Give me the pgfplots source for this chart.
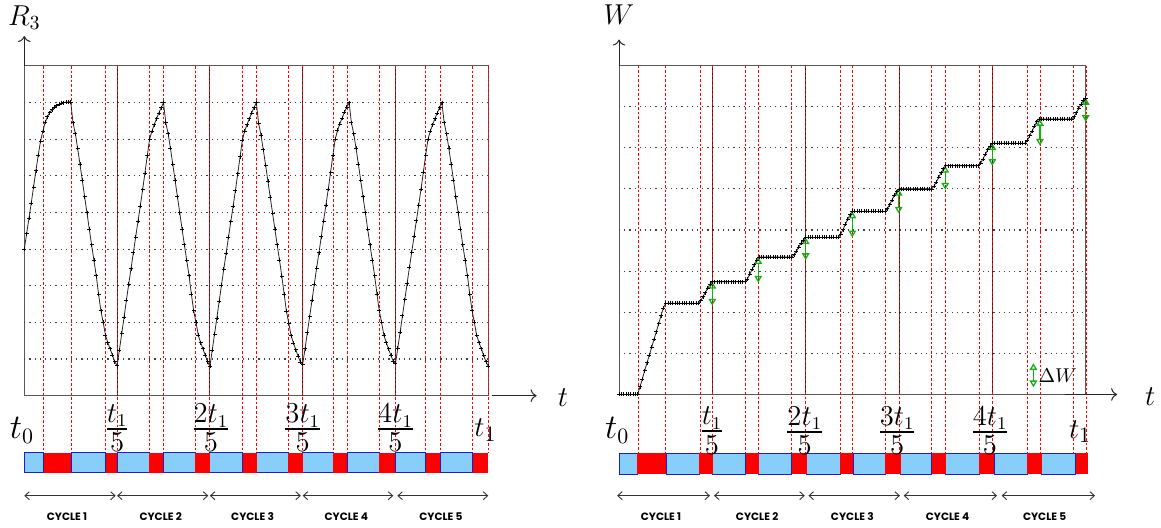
\documentclass[border=0pt]{standalone}
\usepackage{amsmath}
\usepackage{pgfplots}
\pgfplotsset{compat=1.18}
\usetikzlibrary{arrows.meta}
\usepackage{fontspec}
\newfontfamily\cyclefont{Poppins}
\definecolor{barblue}{RGB}{135,206,250}
\definecolor{baredge}{RGB}{30,30,200}
\definecolor{arrgreen}{RGB}{20,175,20}
\newcommand{\bseg}[2]{\fill[barblue] (axis cs:#1,\barlo) rectangle (axis cs:#2,\barhi);
  \draw[baredge, line width=0.5pt] (axis cs:#1,\barlo) rectangle (axis cs:#2,\barhi);}
\newcommand{\rseg}[2]{\fill[red] (axis cs:#1,\barlo) rectangle (axis cs:#2,\barhi);}
\newcommand{\cyc}[4]{\draw[black!80, line width=0.45pt, {Straight Barb[length=2.2pt,width=4pt]}-{Straight Barb[length=2.2pt,width=4pt]}] (axis cs:#1,\cycy) -- (axis cs:#2,\cycy);
  \node[font=\cyclefont\bfseries\fontsize{5.3pt}{6pt}\selectfont, inner sep=0pt] at (axis cs:#3,\cyct) {CYCLE #4};}
\newcommand{\gar}[3]{\draw[arrgreen, line width=0.65pt, {Triangle[open,length=3.4pt,width=3.8pt]}-{Triangle[open,length=3.4pt,width=3.8pt]}] (axis cs:#1,#2) -- (axis cs:#1,#3);}
\newcommand{\fr}[1]{\setlength{\arrayrulewidth}{1pt}\renewcommand{\arraystretch}{0.85}%
  \begin{tabular}{@{}c@{}}$#1$\\[-1.2pt]\hline\rule{0pt}{10.8pt}$5$\end{tabular}}
\tikzset{
  reddash/.style={red, line width=0.5pt, dash pattern=on 1.3pt off 1pt},
  hgrid/.style={black!75, line width=0.6pt, dotted},
  fraclab/.style={font=\fontsize{13.5pt}{15.5pt}\selectfont, inner sep=0pt},
}
\pgfplotsset{
  panel/.style={
    scale only axis, clip=false,
    xmin=0, xmax=5,
    xtick=\empty, ytick=\empty,
    axis line style={black!65, line width=0.5pt},
  },
  curve/.style={black!85, line width=0.4pt, mark=+, mark size=1pt,
    mark options={black, line width=0.35pt, solid}},
}
\begin{document}
\begin{tikzpicture}
\useasboundingbox (0,0) rectangle (580.5pt,264pt);
% ---------------- left panel ----------------
\def\barlo{-2.110}\def\barhi{-1.564}\def\cycy{-2.73}\def\cyct{-3.30}
\begin{axis}[panel, at={(12.15pt,66.15pt)}, anchor=south west,
  width=232pt, height=164.85pt, ymin=0, ymax=9]
\pgfplotsinvokeforeach{1,2,3,4,5,6,7,8}{\draw[hgrid] (axis cs:0,#1) -- (axis cs:5,#1);}
\pgfplotsinvokeforeach{1,2,3,4}{\draw[black!85, line width=0.4pt] (axis cs:#1,0) -- (axis cs:#1,9);}
\pgfplotsinvokeforeach{0.209,0.506,0.877,1.0,1.345,1.5,1.84,2.0,2.355,2.503,2.842,3.0,3.33,3.481,3.825,4.0,4.325,4.48,4.832,5.0}{\draw[reddash] (axis cs:#1,9) -- (axis cs:#1,\barhi);}
\addplot[curve] coordinates {
(0,4.00)(0.025,4.42)(0.05,4.84)(0.075,5.26)(0.1,5.70)(0.125,6.14)(0.15,6.56)(0.175,6.95)(0.2,7.22)(0.225,7.46)(0.25,7.62)(0.275,7.73)(0.3,7.81)(0.325,7.87)(0.35,7.92)(0.375,7.95)(0.4,7.98)(0.425,8.00)(0.45,8.01)(0.475,8.02)(0.5,8.02)
(0.525,7.45)(0.55,7.15)(0.575,6.75)(0.6,6.32)(0.625,5.88)(0.65,5.43)(0.675,5.00)(0.7,4.55)(0.725,4.12)(0.75,3.70)(0.775,3.28)(0.8,2.78)(0.825,2.32)(0.85,2.00)(0.875,1.65)(0.9,1.45)(0.925,1.28)(0.95,1.10)(0.975,0.93)(1,0.82)
(1.025,1.25)(1.05,1.70)(1.075,2.14)(1.1,2.60)(1.125,3.04)(1.15,3.47)(1.175,3.90)(1.2,4.33)(1.225,4.76)(1.25,5.18)(1.275,5.62)(1.3,6.08)(1.325,6.55)(1.35,7.00)(1.375,7.22)(1.4,7.40)(1.425,7.56)(1.45,7.72)(1.475,7.86)(1.5,8.00)
(1.525,7.45)(1.55,7.15)(1.575,6.75)(1.6,6.32)(1.625,5.88)(1.65,5.43)(1.675,5.00)(1.7,4.55)(1.725,4.12)(1.75,3.70)(1.775,3.28)(1.8,2.78)(1.825,2.32)(1.85,2.00)(1.875,1.65)(1.9,1.45)(1.925,1.28)(1.95,1.10)(1.975,0.93)(2,0.80)
(2.025,1.24)(2.05,1.68)(2.075,2.12)(2.1,2.58)(2.125,3.02)(2.15,3.46)(2.175,3.89)(2.2,4.32)(2.225,4.75)(2.25,5.17)(2.275,5.60)(2.3,6.06)(2.325,6.52)(2.35,6.98)(2.375,7.22)(2.4,7.40)(2.425,7.56)(2.45,7.72)(2.475,7.86)(2.5,8.00)
(2.525,7.44)(2.55,7.12)(2.575,6.72)(2.6,6.30)(2.625,5.86)(2.65,5.42)(2.675,4.99)(2.7,4.55)(2.725,4.12)(2.75,3.70)(2.775,3.26)(2.8,2.78)(2.825,2.30)(2.85,1.98)(2.875,1.64)(2.9,1.44)(2.925,1.26)(2.95,1.08)(2.975,0.92)(3,0.86)
(3.025,1.28)(3.05,1.72)(3.075,2.16)(3.1,2.60)(3.125,3.04)(3.15,3.48)(3.175,3.90)(3.2,4.34)(3.225,4.77)(3.25,5.20)(3.275,5.63)(3.3,6.09)(3.325,6.56)(3.35,7.00)(3.375,7.24)(3.4,7.42)(3.425,7.58)(3.45,7.74)(3.475,7.88)(3.5,8.00)
(3.525,7.45)(3.55,7.15)(3.575,6.75)(3.6,6.32)(3.625,5.88)(3.65,5.43)(3.675,5.00)(3.7,4.55)(3.725,4.12)(3.75,3.70)(3.775,3.28)(3.8,2.78)(3.825,2.32)(3.85,2.00)(3.875,1.65)(3.9,1.45)(3.925,1.28)(3.95,1.10)(3.975,0.95)(4,0.88)
(4.025,1.30)(4.05,1.74)(4.075,2.18)(4.1,2.62)(4.125,3.06)(4.15,3.50)(4.175,3.92)(4.2,4.35)(4.225,4.78)(4.25,5.20)(4.275,5.64)(4.3,6.10)(4.325,6.56)(4.35,7.00)(4.375,7.22)(4.4,7.40)(4.425,7.56)(4.45,7.72)(4.475,7.86)(4.5,8.00)
(4.525,7.45)(4.55,7.15)(4.575,6.75)(4.6,6.32)(4.625,5.88)(4.65,5.43)(4.675,5.00)(4.7,4.55)(4.725,4.12)(4.75,3.70)(4.775,3.28)(4.8,2.78)(4.825,2.32)(4.85,2.00)(4.875,1.65)(4.9,1.45)(4.925,1.28)(4.95,1.10)(4.975,0.93)(5,0.80)
};
% colour bar
\bseg{0}{0.209}\bseg{0.506}{0.877}\bseg{1.0}{1.345}\bseg{1.5}{1.84}\bseg{2.0}{2.355}
\bseg{2.503}{2.842}\bseg{3.0}{3.33}\bseg{3.481}{3.825}\bseg{4.0}{4.325}\bseg{4.48}{4.832}
\rseg{0.209}{0.506}\rseg{0.877}{1.0}\rseg{1.345}{1.5}\rseg{1.84}{2.0}\rseg{2.355}{2.503}
\rseg{2.842}{3.0}\rseg{3.33}{3.481}\rseg{3.825}{4.0}\rseg{4.325}{4.48}\rseg{4.832}{5.0}
% cycles
\cyc{0.0}{0.985}{0.46}{1}\cyc{1.0}{1.983}{1.47}{2}\cyc{2.0}{2.98}{2.46}{3}\cyc{3.0}{3.976}{3.47}{4}\cyc{4.02}{5.0}{4.49}{5}
% time labels
\node[font=\fontsize{16pt}{18pt}\selectfont] at (axis cs:-0.025,-0.936) {$t_0$};
\node[fraclab] at (axis cs:1.0,-0.99) {\fr{t_1}};
\node[fraclab] at (axis cs:2.01,-0.99) {\fr{2t_1}};
\node[fraclab] at (axis cs:3.0,-0.99) {\fr{3t_1}};
\node[fraclab] at (axis cs:4.0,-0.99) {\fr{4t_1}};
\node[font=\fontsize{15pt}{17pt}\selectfont] at (axis cs:4.97,-0.936) {$t_1$};
% axis arrows and labels
\draw[black!85, line width=0.5pt, -{To[length=3pt]}] (rel axis cs:0,1) -- ++(0pt,15pt);
\node[font=\fontsize{14pt}{16pt}\selectfont] at (rel axis cs:0,1) [yshift=24pt] {$R_3$};
\draw[black!85, line width=0.5pt, -{To[length=3pt]}] (axis cs:5.037,0) -- (axis cs:5.521,0);
\node[font=\fontsize{14.5pt}{16pt}\selectfont] at (axis cs:5.805,-0.06) {$t$};
\end{axis}
% ---------------- right panel ----------------
\def\barlo{-1.94}\def\barhi{-1.43}\def\cycy{-2.46}\def\cyct{-2.97}
\begin{axis}[panel, at={(309.5pt,66.75pt)}, anchor=south west,
  width=233.35pt, height=164.5pt, ymin=0, ymax=8]
\pgfplotsinvokeforeach{1,2,3,4,5,6,7}{\draw[hgrid] (axis cs:0,#1) -- (axis cs:5,#1);}
\pgfplotsinvokeforeach{1,2,3,4}{\draw[black!85, line width=0.4pt] (axis cs:#1,0) -- (axis cs:#1,8);}
\pgfplotsinvokeforeach{0.207,0.5,0.868,1.0,1.357,1.492,1.853,2.0,2.373,2.5,2.852,3.0,3.352,3.495,3.858,4.0,4.372,4.515,4.872,5.008}{\draw[reddash] (axis cs:#1,8) -- (axis cs:#1,\barhi);}
\addplot[curve] coordinates {
(0,0)(0.025,0)(0.05,0)(0.075,0)(0.1,0)(0.125,0)(0.15,0)(0.175,0)(0.2,0)
(0.225,0.19)(0.25,0.38)(0.275,0.58)(0.3,0.77)(0.325,0.96)(0.35,1.15)(0.375,1.34)(0.4,1.53)(0.425,1.72)(0.45,1.92)(0.475,2.10)(0.5,2.22)
(0.525,2.22)(0.55,2.22)(0.575,2.22)(0.6,2.22)(0.625,2.22)(0.65,2.22)(0.675,2.22)(0.7,2.22)(0.725,2.22)(0.75,2.22)(0.775,2.22)(0.8,2.22)(0.825,2.22)(0.85,2.22)
(0.875,2.28)(0.9,2.38)(0.925,2.48)(0.95,2.58)(0.975,2.68)(1,2.74)
(1.025,2.74)(1.05,2.74)(1.075,2.74)(1.1,2.74)(1.125,2.74)(1.15,2.74)(1.175,2.74)(1.2,2.74)(1.225,2.74)(1.25,2.74)(1.275,2.74)(1.3,2.74)(1.325,2.74)(1.35,2.74)
(1.375,2.81)(1.4,2.92)(1.425,3.04)(1.45,3.16)(1.475,3.27)(1.5,3.34)
(1.525,3.34)(1.55,3.34)(1.575,3.34)(1.6,3.34)(1.625,3.34)(1.65,3.34)(1.675,3.34)(1.7,3.34)(1.725,3.34)(1.75,3.34)(1.775,3.34)(1.8,3.34)(1.825,3.34)(1.85,3.34)
(1.875,3.40)(1.9,3.48)(1.925,3.58)(1.95,3.68)(1.975,3.76)(2,3.82)
(2.025,3.82)(2.05,3.82)(2.075,3.82)(2.1,3.82)(2.125,3.82)(2.15,3.82)(2.175,3.82)(2.2,3.82)(2.225,3.82)(2.25,3.82)(2.275,3.82)(2.3,3.82)(2.325,3.82)(2.35,3.82)
(2.375,3.90)(2.4,4.01)(2.425,4.14)(2.45,4.26)(2.475,4.37)(2.5,4.45)
(2.525,4.45)(2.55,4.45)(2.575,4.45)(2.6,4.45)(2.625,4.45)(2.65,4.45)(2.675,4.45)(2.7,4.45)(2.725,4.45)(2.75,4.45)(2.775,4.45)(2.8,4.45)(2.825,4.45)(2.85,4.45)
(2.875,4.52)(2.9,4.62)(2.925,4.73)(2.95,4.84)(2.975,4.93)(3,5.00)
(3.025,5.00)(3.05,5.00)(3.075,5.00)(3.1,5.00)(3.125,5.00)(3.15,5.00)(3.175,5.00)(3.2,5.00)(3.225,5.00)(3.25,5.00)(3.275,5.00)(3.3,5.00)(3.325,5.00)(3.35,5.00)
(3.375,5.07)(3.4,5.17)(3.425,5.28)(3.45,5.39)(3.475,5.49)(3.5,5.56)
(3.525,5.56)(3.55,5.56)(3.575,5.56)(3.6,5.56)(3.625,5.56)(3.65,5.56)(3.675,5.56)(3.7,5.56)(3.725,5.56)(3.75,5.56)(3.775,5.56)(3.8,5.56)(3.825,5.56)(3.85,5.56)
(3.875,5.63)(3.9,5.73)(3.925,5.84)(3.95,5.95)(3.975,6.04)(4,6.11)
(4.025,6.11)(4.05,6.11)(4.075,6.11)(4.1,6.11)(4.125,6.11)(4.15,6.11)(4.175,6.11)(4.2,6.11)(4.225,6.11)(4.25,6.11)(4.275,6.11)(4.3,6.11)(4.325,6.11)(4.35,6.11)
(4.375,6.18)(4.4,6.29)(4.425,6.41)(4.45,6.52)(4.475,6.63)(4.5,6.70)
(4.525,6.70)(4.55,6.70)(4.575,6.70)(4.6,6.70)(4.625,6.70)(4.65,6.70)(4.675,6.70)(4.7,6.70)(4.725,6.70)(4.75,6.70)(4.775,6.70)(4.8,6.70)(4.825,6.70)(4.85,6.70)
(4.875,6.76)(4.9,6.85)(4.925,6.96)(4.95,7.06)(4.975,7.15)(5,7.21)
};
% green increments
\gar{1.0}{2.74}{2.16}\gar{1.492}{3.34}{2.72}\gar{2.0}{3.82}{3.27}\gar{2.5}{4.45}{3.82}
\gar{2.997}{5.0}{4.40}\gar{3.495}{5.56}{4.98}\gar{4.0}{6.11}{5.56}\gar{4.51}{6.70}{6.05}\gar{5.0}{7.21}{6.63}
\gar{4.44}{0.76}{0.175}
\node[anchor=west, inner sep=0pt, font=\fontsize{10pt}{12pt}\selectfont] at (axis cs:4.49,0.45) {$\Delta W$};
% colour bar
\bseg{0}{0.196}\bseg{0.504}{0.860}\bseg{1.004}{1.357}\bseg{1.497}{1.850}\bseg{2.011}{2.368}
\bseg{2.510}{2.850}\bseg{3.018}{3.350}\bseg{3.503}{3.860}\bseg{4.021}{4.374}\bseg{4.529}{4.896}
\rseg{0.196}{0.504}\rseg{0.860}{1.004}\rseg{1.357}{1.497}\rseg{1.850}{2.011}\rseg{2.368}{2.510}
\rseg{2.850}{3.018}\rseg{3.350}{3.503}\rseg{3.860}{4.021}\rseg{4.374}{4.529}\rseg{4.896}{5.025}
% cycles
\cyc{-0.02}{0.975}{0.45}{1}\cyc{1.018}{1.99}{1.48}{2}\cyc{2.03}{3.01}{2.50}{3}\cyc{3.05}{4.05}{3.52}{4}\cyc{4.10}{5.10}{4.56}{5}
% time labels
\node[font=\fontsize{16pt}{18pt}\selectfont] at (axis cs:-0.02,-0.863) {$t_0$};
\node[fraclab] at (axis cs:0.996,-0.967) {\fr{t_1}};
\node[fraclab] at (axis cs:1.99,-0.967) {\fr{2t_1}};
\node[fraclab] at (axis cs:2.98,-0.967) {\fr{3t_1}};
\node[fraclab] at (axis cs:3.975,-0.967) {\fr{4t_1}};
\node[font=\fontsize{15pt}{17pt}\selectfont] at (axis cs:4.94,-0.91) {$t_1$};
% axis arrows and labels
\draw[black!85, line width=0.5pt, -{To[length=3pt]}] (rel axis cs:0,1) -- ++(0pt,13pt);
\node[font=\fontsize{14pt}{16pt}\selectfont] at (rel axis cs:0,1) [yshift=25.25pt] {$W$};
\draw[black!85, line width=0.5pt, -{To[length=3pt]}] (axis cs:4.778,0) -- (axis cs:5.337,0);
\node[font=\fontsize{14.5pt}{16pt}\selectfont] at (axis cs:5.69,-0.06) {$t$};
\end{axis}
\end{tikzpicture}
\end{document}
